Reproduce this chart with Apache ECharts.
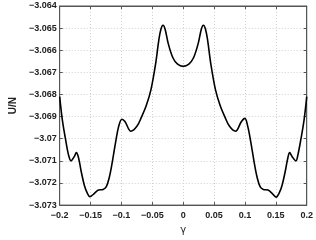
<!DOCTYPE html>
<html><head><meta charset="utf-8">
<script src="https://cdn.jsdelivr.net/npm/echarts@6/dist/echarts.min.js"></script>
<style>html,body{margin:0;padding:0;background:#fff}#c{width:316px;height:240px}</style>
</head><body><div id="c"></div>
<script>
var gamma = [-0.200,-0.1957,-0.1906,-0.1856,-0.1815,-0.1764,-0.1729,-0.1693,-0.1653,-0.160,-0.1551,-0.151,-0.145,-0.1373,-0.1297,-0.1247,-0.1197,-0.1146,-0.1095,-0.1045,-0.0993,-0.0943,-0.0847,-0.075,-0.0674,-0.0598,-0.0522,-0.0446,-0.0395,-0.036,-0.0327,-0.0294,-0.0243,-0.0167,-0.0091,0,
0.0091,0.0167,0.0243,0.0294,0.0327,0.036,0.0395,0.0446,0.0522,0.0598,0.0674,0.075,0.0847,0.0943,0.0999,0.1045,0.1095,0.1146,0.1197,0.1247,0.1297,0.1373,0.145,0.1506,0.1551,0.160,0.1653,0.1693,0.1723,0.1764,0.1825,0.1856,0.1906,0.1957,0.200];
var energy = [-3.0681,-3.06915,-3.07001,-3.07074,-3.0710,-3.07081,-3.07063,-3.07088,-3.07146,-3.07211,-3.07247,-3.07262,-3.0725,-3.07232,-3.07229,-3.07218,-3.07175,-3.07102,-3.07016,-3.06944,-3.06912,-3.06922,-3.06966,-3.06944,-3.06901,-3.0685,-3.06778,-3.0666,-3.06554,-3.06504,-3.06487,-3.06504,-3.06569,-3.06634,-3.06663,-3.06673,
-3.06663,-3.06634,-3.06569,-3.06504,-3.06487,-3.06504,-3.06554,-3.0666,-3.06778,-3.0685,-3.06901,-3.06944,-3.06966,-3.06922,-3.06908,-3.06944,-3.07016,-3.07102,-3.07175,-3.07218,-3.07229,-3.07232,-3.0725,-3.07264,-3.07247,-3.07211,-3.07146,-3.07088,-3.07063,-3.07081,-3.0710,-3.07074,-3.07001,-3.06915,-3.0681];
var xTicks = [-0.2,-0.15,-0.1,-0.05,0,0.05,0.1,0.15,0.2];
var yTicks = [-3.073,-3.072,-3.071,-3.07,-3.069,-3.068,-3.067,-3.066,-3.065,-3.064];

function fmt(v){ var s = String(Math.abs(Math.round(v*1e6)/1e6)); return (v < -1e-12 ? '\u2212' : '') + s; }
var chart = echarts.init(document.getElementById('c'), null, {renderer:'canvas'});
var lblFont = {fontFamily:'Liberation Sans, Arial, sans-serif', fontWeight:'bold', fontSize:9, color:'#222'};
var grid = {left:44, right:9, top:6, bottom:26, show:true, borderColor:'#555', borderWidth:1, backgroundColor:'#fff'};
var pts = gamma.map(function(g,i){return [g, energy[i]];});
chart.setOption({
  animation:false,
  grid:grid,
  xAxis:[{type:'value', min:xTicks[0], max:xTicks[xTicks.length-1], interval:0.05,
    axisLine:{show:true, onZero:false, lineStyle:{color:'#555'}},
    axisTick:{show:true, inside:true, length:3, lineStyle:{color:'#555'}},
    axisLabel:Object.assign({margin:6, formatter:fmt}, lblFont),
    splitLine:{show:true, lineStyle:{color:'#d0d0d0', type:[1,2], width:1}},
    name:'\u03b3', nameLocation:'middle', nameGap:17,
    nameTextStyle:{fontFamily:'DejaVu Sans, sans-serif', fontSize:10, color:'#222'}},
   {type:'value', position:'top', min:xTicks[0], max:xTicks[xTicks.length-1], interval:0.05,
    axisLine:{show:true, onZero:false, lineStyle:{color:'#555'}},
    axisTick:{show:true, inside:true, length:3, lineStyle:{color:'#555'}},
    axisLabel:{show:false}, splitLine:{show:false}}],
  yAxis:[{type:'value', min:yTicks[0], max:yTicks[yTicks.length-1], interval:0.001,
    axisLine:{show:true, onZero:false, lineStyle:{color:'#555'}},
    axisTick:{show:true, inside:true, length:3, lineStyle:{color:'#555'}},
    axisLabel:Object.assign({margin:3, formatter:fmt}, lblFont),
    splitLine:{show:true, lineStyle:{color:'#d0d0d0', type:[1,2], width:1}},
    name:'U/N', nameLocation:'middle', nameGap:32, nameRotate:90,
    nameTextStyle:{fontFamily:'Liberation Sans, Arial, sans-serif', fontWeight:'bold', fontSize:10, color:'#222'}},
   {type:'value', position:'right', min:yTicks[0], max:yTicks[yTicks.length-1], interval:0.001,
    axisLine:{show:true, onZero:false, lineStyle:{color:'#555'}},
    axisTick:{show:true, inside:true, length:3, lineStyle:{color:'#555'}},
    axisLabel:{show:false}, splitLine:{show:false}}],
  series:[{type:'line', data:pts, smooth:0.35, showSymbol:false, symbol:'none',
    lineStyle:{color:'#000', width:1.6}}]
});
</script></body></html>
